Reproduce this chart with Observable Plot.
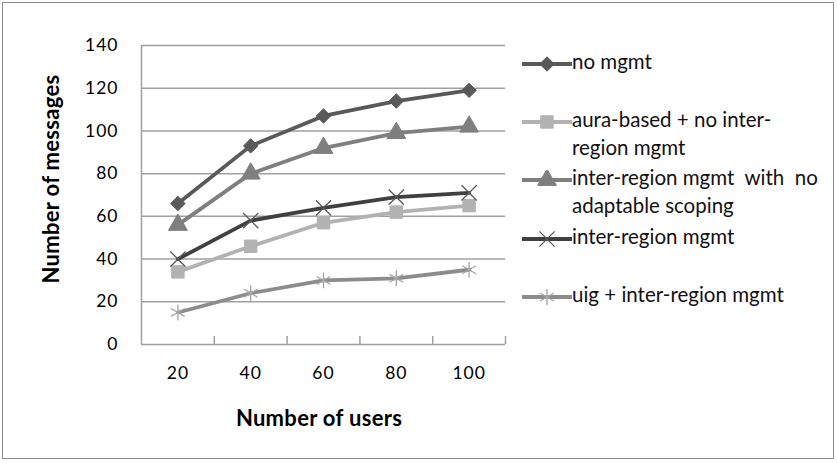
<!DOCTYPE html>
<html>
<head>
<meta charset="utf-8">
<script src="https://cdn.jsdelivr.net/npm/d3@7"></script>
<script src="https://cdn.jsdelivr.net/npm/@observablehq/plot@0.6"></script>
<style>
  body { margin: 0; background: #fff; }
  #wrap { position: relative; width: 837px; height: 463px; overflow: hidden; font-family: Lato, "Open Sans", sans-serif; }
  #frame { position: absolute; left: 2px; top: 2px; width: 830px; height: 455px; border: 1.5px solid #8c8c8c; }
  #chart { position: absolute; left: 0; top: 0; }
  .title { position: absolute; font-weight: bold; font-size: 22px; letter-spacing: 0.3px; color: #000; white-space: nowrap; line-height: 1; }
  #ytitle { left: 51px; top: 179px; transform: translate(-50%, -50%) rotate(-90deg); }
  #xtitle { left: 319px; top: 418px; transform: translate(-50%, -50%); }
  #legend { position: absolute; left: 0; top: 0; }
  .lsym { position: absolute; left: 521px; }
  .ltext { position: absolute; left: 572px; font-size: 20.5px; line-height: 28px; color: #141014; white-space: nowrap; }
</style>
</head>
<body>
<div id="wrap">
  <div id="frame"></div>
  <div id="chart"></div>
  <div id="ytitle" class="title">Number of messages</div>
  <div id="xtitle" class="title">Number of users</div>
  <div id="legend"></div>
</div>
<script>
// ---- data ----
const users = [20, 40, 60, 80, 100];
const yTicks = [0, 20, 40, 60, 80, 100, 120, 140];
const seriesNames = [
  "no mgmt",
  "aura-based + no inter-region mgmt",
  "inter-region mgmt  with  no adaptable scoping",
  "inter-region mgmt",
  "uig + inter-region mgmt"
];
const noMgmt      = [66, 93, 107, 114, 119];
const auraBased   = [34, 46, 57, 62, 65];
const noAdaptable = [56, 80, 92, 99, 102];
const interRegion = [40, 58, 64, 69, 71];
const uigInter    = [15, 24, 30, 31, 35];

// ---- styles ----
const styles = [
  {line: "#595959", mark: "#595959", symbol: "diamond2", r: 6.5, fill: true},
  {line: "#b2b2b2", mark: "#b2b2b2", symbol: "square", r: 7, fill: true},
  {line: "#7f7f7f", mark: "#7f7f7f", symbol: "triangle", r: 7, fill: true},
  {line: "#404040", mark: "#595959", symbol: "times", r: 7, fill: false},
  {line: "#8c8c8c", mark: "#a6a6a6", symbol: "asterisk", r: 7.5, fill: false}
];
const allValues = [noMgmt, auraBased, noAdaptable, interRegion, uigInter];

const rows = [];
allValues.forEach((vals, s) => users.forEach((u, i) => rows.push({series: s, users: u, value: vals[i]})));

// category boundaries (midpoints between users, plus the outer edges)
const step = users[1] - users[0];
const bounds = [users[0] - step / 2, ...users.map(u => u + step / 2)];

const W = 837, H = 463, mL = 141, mR = 332, mT = 45, mB = 119;
const plotH = H - mT - mB;

const marks = [
  Plot.ruleY(yTicks.filter(d => d > 0), {stroke: "#a0a0a0", strokeWidth: 1.5}),
  Plot.ruleX([bounds[0]], {stroke: "#a0a0a0", strokeWidth: 1.5}),
  Plot.ruleY([0], {stroke: "#a0a0a0", strokeWidth: 1.5}),
  Plot.tickX(bounds.slice(1), {x: d => d, stroke: "#a0a0a0", strokeWidth: 1.5, insetTop: plotH - 8})
];
styles.forEach((st, s) => {
  const data = rows.filter(r => r.series === s);
  marks.push(Plot.line(data, {x: "users", y: "value", stroke: st.line, strokeWidth: 3.8}));
});
styles.forEach((st, s) => {
  const data = rows.filter(r => r.series === s);
  marks.push(Plot.dot(data, {
    x: "users", y: "value", symbol: () => st.symbol, r: st.r,
    fill: st.fill ? st.mark : "none", stroke: st.mark, strokeWidth: st.fill ? 1 : 1.3
  }));
});

const chart = Plot.plot({
  width: W, height: H,
  marginLeft: mL, marginRight: mR, marginTop: mT, marginBottom: mB,
  style: {fontFamily: "Lato, 'Open Sans', sans-serif", fontSize: "17.5px", letterSpacing: "1px", color: "#000", background: "transparent", overflow: "visible"},
  symbol: {type: "identity"},
  x: {type: "linear", domain: [bounds[0], bounds[bounds.length - 1]], ticks: users, tickSize: 0, tickPadding: 22, label: null, tickFormat: d => String(d)},
  y: {domain: [0, 140], ticks: yTicks, tickSize: 0, tickPadding: 23, label: null},
  marks
});
document.getElementById("chart").appendChild(chart);

// ---- legend ----
const legendRows = [
  {center: 64,  lines: ["no mgmt"]},
  {center: 122, lines: ["aura-based + no inter-", "region mgmt"]},
  {center: 180, lines: ["inter-region mgmt  with  no", "adaptable scoping"]},
  {center: 239, lines: ["inter-region mgmt"]},
  {center: 297, lines: ["uig + inter-region mgmt"]}
];
const legend = d3.select("#legend");
const symMap = {
  diamond2: d3.symbolDiamond2, square: d3.symbolSquare, triangle: d3.symbolTriangle,
  times: d3.symbolTimes, asterisk: d3.symbolAsterisk
};
legendRows.forEach((lr, s) => {
  const st = styles[s];
  const svg = legend.append("svg").attr("class", "lsym").attr("width", 52).attr("height", 20)
    .style("top", (lr.center - 10) + "px");
  svg.append("line").attr("x1", 1).attr("x2", 51).attr("y1", 10).attr("y2", 10)
    .attr("stroke", st.line).attr("stroke-width", 3.8);
  svg.append("path").attr("transform", "translate(26,10)")
    .attr("d", d3.symbol(symMap[st.symbol], Math.PI * st.r * st.r)())
    .attr("fill", st.fill ? st.mark : "none").attr("stroke", st.mark).attr("stroke-width", st.fill ? 1 : 1.3);
  const txt = legend.append("div").attr("class", "ltext").style("top", (lr.center - 17) + "px")
    .style("white-space", "pre");
  txt.text(lr.lines.join("\n"));
});
</script>
</body>
</html>
